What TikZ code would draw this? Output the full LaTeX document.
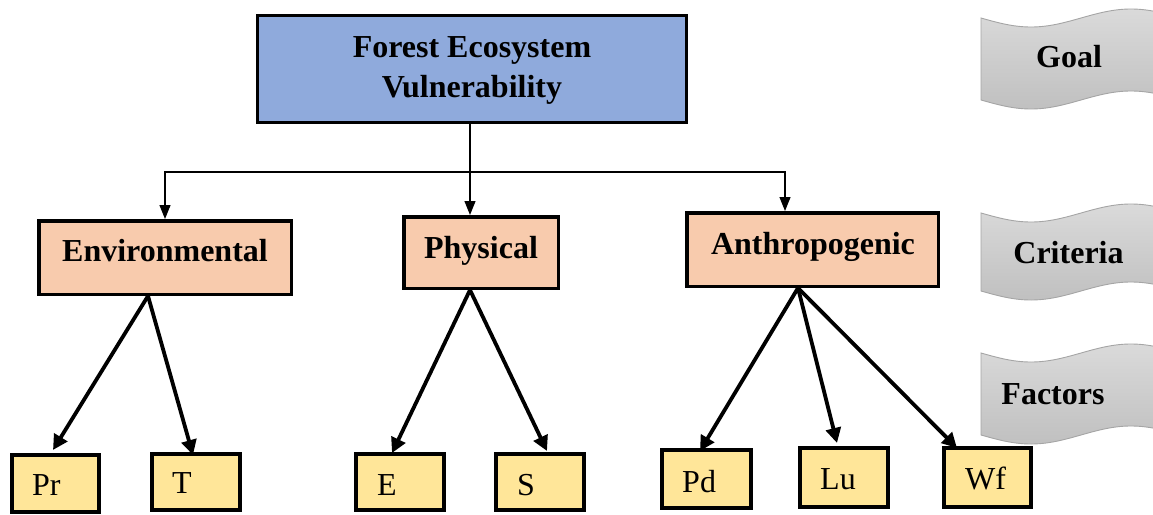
\documentclass[tikz,border=0pt]{standalone}
\usepackage{fontspec}
\setmainfont{Liberation Serif}
\usetikzlibrary{arrows.meta,calc}

\definecolor{goalblue}{HTML}{8FAADC}
\definecolor{critpeach}{HTML}{F8CBAD}
\definecolor{factyellow}{HTML}{FFE699}
\definecolor{bannertop}{RGB}{218,218,218}
\definecolor{bannerbot}{RGB}{192,192,192}
\definecolor{bannerline}{RGB}{165,165,165}

\tikzset{
  goalbox/.style={draw, line width=3.5pt, fill=goalblue, inner sep=0pt},
  critbox/.style={draw, line width=3.5pt, fill=critpeach, inner sep=0pt},
  factbox/.style={draw, line width=4pt, fill=factyellow, inner sep=0pt},
  headtext/.style={font=\fontsize{32}{38}\selectfont\bfseries, inner sep=0pt, anchor=base},
  facttext/.style={font=\fontsize{32}{38}\selectfont, inner sep=0pt, anchor=base west},
  treeline/.style={line width=1.2pt},
  treearrow/.style={line width=1.2pt, -{Triangle[length=14pt,width=11pt]}},
  fatarrow/.style={line width=3.8pt, -{Triangle[length=15pt,width=15pt]}},
  banner/.style={top color=bannertop, bottom color=bannerbot, draw=bannerline, line width=0.9pt}
}

\begin{document}
\begin{tikzpicture}[x=1pt,y=-1pt]
\useasboundingbox (0,0) rectangle (1153,514);
\clip (0,0) rectangle (1153,514);

% level banners on the right
\foreach \yy/\hh in {18/82, 213/78, 353/82} {
  \shadedraw[banner]
    plot[domain=981:1181, samples=80, variable=\t] (\t, {\yy + 9*sin(1.8*(\t-981))})
    -- plot[domain=1181:981, samples=80, variable=\t] (\t, {\yy + \hh + 9*sin(1.8*(\t-981))})
    -- cycle;
}
\node[headtext] (lvl-goal) at (1069,67) {Goal};
\node[headtext] (lvl-crit) at (1068.5,263) {Criteria};
\node[headtext] (lvl-fact) at (1053,404) {Factors};

% goal
\node[goalbox, minimum width=429pt, minimum height=107pt] (goal) at (472,69) {};
\node[headtext] (goal-l1) at (472,57) {Forest Ecosystem};
\node[headtext] (goal-l2) at (472,97) {Vulnerability};

% criteria
\node[critbox, minimum width=252.5pt, minimum height=73.5pt] (env) at (165,257.5) {};
\node[headtext] (env-t) at (165,261.5) {Environmental};
\node[critbox, minimum width=154.5pt, minimum height=71.5pt] (phys) at (481,252.5) {};
\node[headtext] (phys-t) at (481,258) {Physical};
\node[critbox, minimum width=251.5pt, minimum height=73.5pt] (anth) at (812.5,249.5) {};
\node[headtext] (anth-t) at (813,254) {Anthropogenic};

% factors
\node[factbox, minimum width=87pt, minimum height=57pt] (pr) at (55.5,483.5) {};
\node[facttext] (pr-t) at (32,495) {Pr};
\node[factbox, minimum width=88pt, minimum height=56pt] (t) at (196,482) {};
\node[facttext] (t-t) at (172,493) {T};
\node[factbox, minimum width=88pt, minimum height=56pt] (e) at (400,482) {};
\node[facttext] (e-t) at (377,495) {E};
\node[factbox, minimum width=88pt, minimum height=56pt] (s) at (540,482) {};
\node[facttext] (s-t) at (517,495) {S};
\node[factbox, minimum width=89pt, minimum height=58pt] (pd) at (706.5,479) {};
\node[facttext] (pd-t) at (682,492) {Pd};
\node[factbox, minimum width=88pt, minimum height=59pt] (lu) at (844,477.5) {};
\node[facttext] (lu-t) at (820,489) {Lu};
\node[factbox, minimum width=87pt, minimum height=59pt] (wf) at (987.5,477.5) {};
\node[facttext] (wf-t) at (965,489) {Wf};

% goal -> criteria
\coordinate (split) at (470,172);
\draw[treeline] (goal.south -| split) -- (split);
\draw[treearrow] (split) -| (env.north);
\draw[treearrow] (split) -- (split |- phys.north);
\draw[treearrow] (split) -| ([xshift=-27.5pt]anth.north);

% criteria -> factors
\draw[fatarrow] ([xshift=-17pt]env.south) -- ([xshift=-2.5pt,yshift=3pt]pr.north);
\draw[fatarrow] ([xshift=-17pt]env.south) -- ([xshift=-3pt,yshift=-3pt]t.north);
\draw[fatarrow] ([xshift=-11pt]phys.south) -- ([xshift=-8pt,yshift=-1pt]e.north);
\draw[fatarrow] ([xshift=-11pt]phys.south) -- ([xshift=7pt,yshift=1pt]s.north);
\draw[fatarrow] ([xshift=-14.5pt]anth.south) -- ([xshift=-6.5pt,yshift=-3pt]pd.north);
\draw[fatarrow] ([xshift=-14.5pt]anth.south) -- ([xshift=-7pt,yshift=3pt]lu.north);
\draw[fatarrow] ([xshift=-14.5pt]anth.south) -- ([xshift=-30.5pt,yshift=-2pt]wf.north);
\end{tikzpicture}
\end{document}
